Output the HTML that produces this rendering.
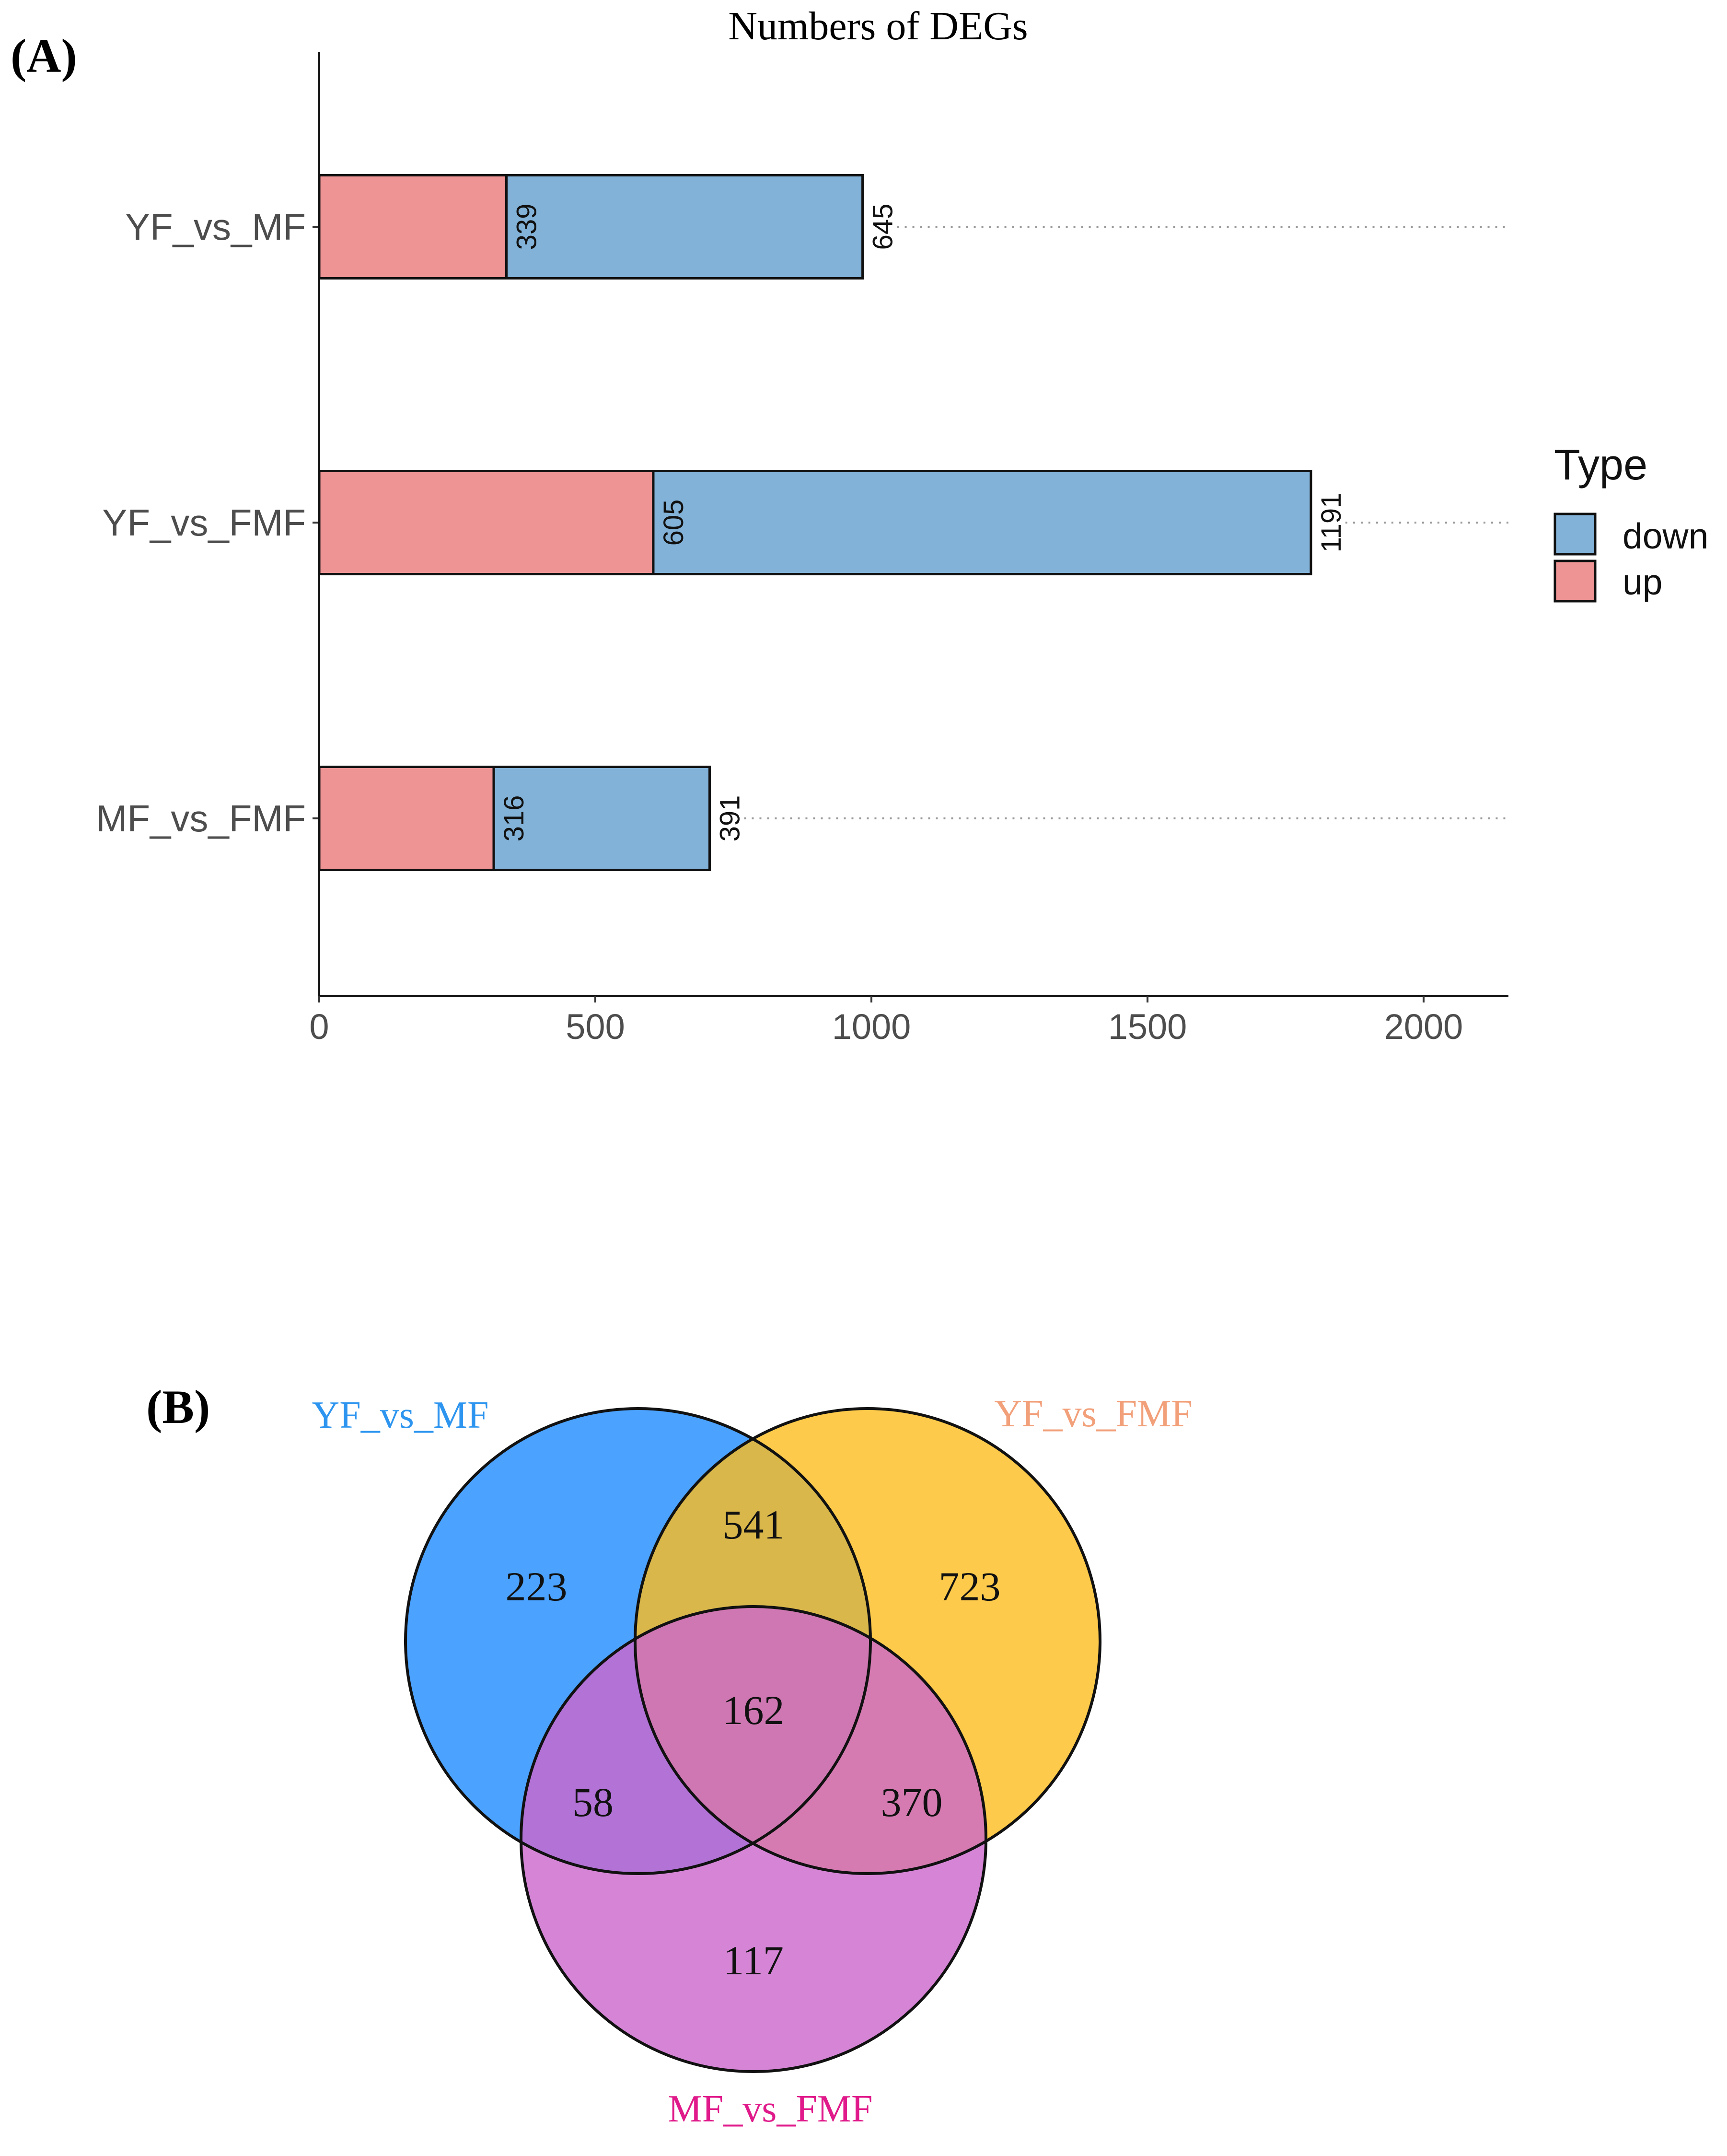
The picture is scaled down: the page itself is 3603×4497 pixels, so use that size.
<!DOCTYPE html>
<html><head><meta charset="utf-8"><style>
html,body{margin:0;padding:0;background:#fff;}
svg{display:block;}
</style></head><body>
<svg id="chart" width="3603" height="4497" viewBox="0 0 3603 4497" xmlns="http://www.w3.org/2000/svg">
<text x="22" y="150" font-family="Liberation Serif, serif" font-weight="bold" font-size="100">(A)</text>
<text x="1832" y="82" text-anchor="middle" font-family="Liberation Serif, serif" font-size="84">Numbers of DEGs</text>
<g id="plotA"></g>
<g>
<text x="3242" y="1000" font-family="Liberation Sans, sans-serif" font-size="90" fill="#111">Type</text>
<rect x="3244" y="1072" width="84" height="84" fill="#82b2d8" stroke="#111" stroke-width="5"/>
<text x="3385" y="1144" font-family="Liberation Sans, sans-serif" font-size="75" fill="#111">down</text>
<rect x="3244" y="1170" width="84" height="84" fill="#ef9495" stroke="#111" stroke-width="5"/>
<text x="3385" y="1240" font-family="Liberation Sans, sans-serif" font-size="75" fill="#111">up</text>
</g>
<text x="305" y="2968" font-family="Liberation Serif, serif" font-weight="bold" font-size="100">(B)</text>
<g>
<circle cx="1331" cy="3423" r="485" fill="#1e8bff" fill-opacity="0.8"/>
<circle cx="1810" cy="3423" r="485" fill="#fdbd1e" fill-opacity="0.8"/>
<circle cx="1572" cy="3836" r="485" fill="#cc66cc" fill-opacity="0.8"/>
<g fill="none" stroke="#111" stroke-width="6">
<circle cx="1331" cy="3423" r="485"/><circle cx="1810" cy="3423" r="485"/><circle cx="1572" cy="3836" r="485"/>
</g>
<g font-family="Liberation Serif, serif" font-size="86" text-anchor="middle" fill="#111">
<text x="1119" y="3338">223</text>
<text x="1572" y="3209">541</text>
<text x="2023" y="3338">723</text>
<text x="1572" y="3596">162</text>
<text x="1237" y="3788">58</text>
<text x="1902" y="3788">370</text>
<text x="1572" y="4118">117</text>
</g>
<g font-family="Liberation Serif, serif" font-size="80" text-anchor="middle">
<text x="835" y="2978" fill="#2d95ef">YF_vs_MF</text>
<text x="2281" y="2975" fill="#f2a07a">YF_vs_FMF</text>
<text x="1607" y="4425" fill="#e01a8a">MF_vs_FMF</text>
</g>
</g>
</svg>
<script>
const categories = ["YF_vs_MF", "YF_vs_FMF", "MF_vs_FMF"];
const upValues = [339, 605, 316];
const downValues = [645, 1191, 391];
const xTicks = [0, 500, 1000, 1500, 2000];
const NS = "http://www.w3.org/2000/svg";
const g = document.getElementById("plotA");
const x0 = 666, pxPerUnit = 1.152, axisTop = 109, axisBottom = 2077, axisRight = 3147;
const bandH = 617, barH = 215;
function xs(v){ return x0 + v * pxPerUnit; }
function yc(i){ return 473 + i * bandH; }
function mk(tag, attrs){ const e = document.createElementNS(NS, tag); for (const k in attrs) e.setAttribute(k, attrs[k]); g.appendChild(e); return e; }
let a = mk("line", {x1:x0, y1:axisTop, x2:x0, y2:axisBottom, stroke:"#111", "stroke-width":4});


a = mk("line", {x1:x0, y1:axisBottom, x2:axisRight, y2:axisBottom, stroke:"#111", "stroke-width":4});


xTicks.forEach(t => {
  const tk = mk("line", {x1:xs(t), y1:axisBottom, x2:xs(t), y2:axisBottom+14, stroke:"#333", "stroke-width":4});
  
  
  const tl = mk("text", {x:xs(t), y:axisBottom+90, "text-anchor":"middle", "font-family":"Liberation Sans, sans-serif", "font-size":74, fill:"#4d4d4d"});
  tl.textContent = t;
  
  
});
categories.forEach((c, i) => {
  const cy = yc(i), top = cy - barH/2;
  const total = upValues[i] + downValues[i];
  const dl = mk("line", {x1:xs(total)+72, y1:cy, x2:axisRight, y2:cy, stroke:"#999", "stroke-width":4, "stroke-dasharray":"4 12"});
  
  
  const tk = mk("line", {x1:x0-14, y1:cy, x2:x0, y2:cy, stroke:"#333", "stroke-width":4});
  
  
  const lb = mk("text", {x:x0-28, y:cy+27, "text-anchor":"end", "font-family":"Liberation Sans, sans-serif", "font-size":78, fill:"#4d4d4d"});
  lb.textContent = c;
  
  
  const ub = mk("rect", {x:xs(0), y:top, width:xs(upValues[i])-xs(0), height:barH, fill:"#ef9495", stroke:"#111", "stroke-width":5});
  
  
  const db = mk("rect", {x:xs(upValues[i]), y:top, width:xs(total)-xs(upValues[i]), height:barH, fill:"#82b2d8", stroke:"#111", "stroke-width":5});
  
  
  [[upValues[i], upValues[i]], [total, downValues[i]]].forEach(([pos, val]) => {
    const px = xs(pos) + 62;
    const t = mk("text", {x:px, y:cy, transform:`rotate(-90 ${px} ${cy})`, "text-anchor":"middle", "font-family":"Liberation Sans, sans-serif", "font-size":58, fill:"#111"});
    t.textContent = val;
    
    
  });
});
</script>
</body></html>
